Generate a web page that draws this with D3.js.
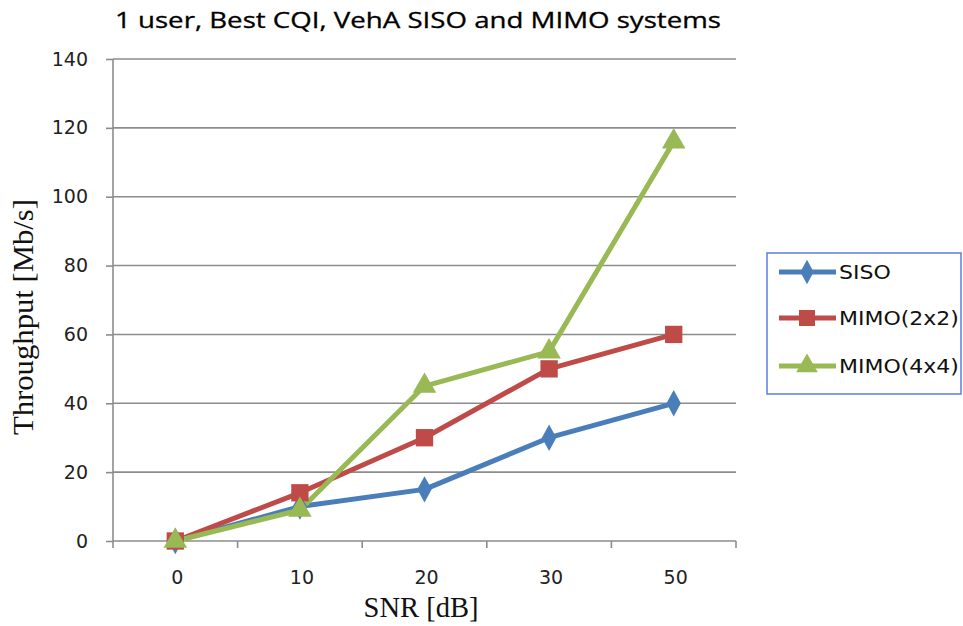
<!DOCTYPE html>
<html><head><meta charset="utf-8">
<script src="https://cdn.jsdelivr.net/npm/d3@7"></script>
<style>body{margin:0;background:#fff}svg{display:block}</style>
</head><body>
<svg id="c" width="963" height="626"></svg>
<script>
const categories = ["0","10","20","30","50"];
const sisoValues = [0, 10, 15, 30, 40];
const mimo2Values = [0, 14, 30, 50, 60];
const mimo4Values = [0, 9, 45, 55, 116];
const yTicks = [0,20,40,60,80,100,120,140];
const seriesNames = ["SISO","MIMO(2x2)","MIMO(4x4)"];

const series = [
  {name: seriesNames[0], values: sisoValues, color: "#4A7EBB", sym: d3.symbolDiamond, size: 200, sx: 0.95},
  {name: seriesNames[1], values: mimo2Values, color: "#BE4B48", sym: d3.symbolSquare, size: 300, sx: 1},
  {name: seriesNames[2], values: mimo4Values, color: "#98B954", sym: d3.symbolTriangle, size: 240, sx: 1}
];

const svg = d3.select("#c");
const L = 113, R = 736, T = 59, B = 541;
const x = d3.scaleBand().domain(categories).range([L, R]);
const y = d3.scaleLinear().domain([0,140]).range([B, T]);
const tickFont = "DejaVu Sans, Verdana, sans-serif";

// gridlines
svg.append("g").selectAll("line").data(yTicks.filter(d=>d>0)).join("line")
  .attr("x1", L).attr("x2", R).attr("y1", d=>y(d)).attr("y2", d=>y(d))
  .attr("stroke", "#8c8c8c").attr("stroke-width", 1.6);

// y axis
const ya = svg.append("g").attr("transform", `translate(${L},0)`)
  .call(d3.axisLeft(y).tickValues(yTicks).tickSize(7).tickPadding(18));
ya.select(".domain").attr("stroke", "#8c8c8c").attr("stroke-width", 1.6).attr("d", `M0,${T}V${B}`);
ya.selectAll(".tick line").attr("stroke", "#8c8c8c").attr("stroke-width", 1.6);
ya.selectAll(".tick text").attr("font-family", tickFont).attr("font-size", 19).attr("fill", "#222");

// x axis
const xa = svg.append("g").attr("transform", `translate(0,${B})`)
  .call(d3.axisBottom(x).tickSize(0).tickPadding(30));
xa.select(".domain").attr("stroke", "#8c8c8c").attr("stroke-width", 1.6).attr("d", `M${L},0H${R}`);
xa.selectAll(".tick text").attr("font-family", tickFont).attr("font-size", 19).attr("fill", "#222").attr("dx", 2);
// category boundary ticks
const bounds = categories.map(c => x(c)).concat([x(categories[categories.length-1]) + x.bandwidth()]);
svg.append("g").selectAll("line").data(bounds).join("line")
  .attr("x1", d=>d).attr("x2", d=>d).attr("y1", B).attr("y2", B+7)
  .attr("stroke", "#8c8c8c").attr("stroke-width", 1.6);

// lines and markers
const cx = (i) => x(categories[i]) + x.bandwidth()/2;
series.forEach(s => {
  const line = d3.line().x((d,i)=>cx(i)).y(d=>y(d));
  svg.append("path").datum(s.values).attr("d", line)
    .attr("fill", "none").attr("stroke", s.color).attr("stroke-width", 5).attr("stroke-linejoin", "round");
});
series.forEach(s => {
  svg.append("g").selectAll("path").data(s.values).join("path")
    .attr("d", d3.symbol().type(s.sym).size(s.size))
    .attr("transform", (d,i)=>`translate(${cx(i)},${y(d)}) scale(${s.sx},1)`)
    .attr("fill", s.color);
});

// title
svg.append("text").attr("x", 418).attr("y", 28).attr("text-anchor", "middle")
  .attr("font-family", "Open Sans, sans-serif").attr("font-size", 21).attr("fill", "#000")
  .attr("stroke", "#000").attr("stroke-width", 0.3)
  .attr("textLength", 606).attr("lengthAdjust", "spacingAndGlyphs")
  .text("1 user, Best CQI, VehA SISO and MIMO systems");

// axis titles
svg.append("text").attr("x", 421).attr("y", 617).attr("text-anchor", "middle")
  .attr("font-family", "Liberation Serif, Times New Roman, serif").attr("font-size", 30).attr("fill", "#111")
  .attr("textLength", 115).attr("lengthAdjust", "spacingAndGlyphs")
  .text("SNR [dB]");
svg.append("text").attr("transform", "translate(33,317) rotate(-90)").attr("text-anchor", "middle")
  .attr("font-family", "Liberation Serif, Times New Roman, serif").attr("font-size", 30).attr("fill", "#111")
  .attr("textLength", 236).attr("lengthAdjust", "spacingAndGlyphs")
  .text("Throughput [Mb/s]");

// legend
const lg = svg.append("g");
lg.append("rect").attr("x", 767).attr("y", 253).attr("width", 194).attr("height", 141)
  .attr("fill", "#fff").attr("stroke", "#5b7fdc").attr("stroke-width", 1.5);
const ly = [272, 318, 366];
series.forEach((s, i) => {
  lg.append("line").attr("x1", 779).attr("x2", 836).attr("y1", ly[i]).attr("y2", ly[i])
    .attr("stroke", s.color).attr("stroke-width", 5);
  lg.append("path").attr("d", d3.symbol().type(s.sym).size(s.size*0.85))
    .attr("transform", `translate(807,${ly[i]}) scale(${s.sx},1)`).attr("fill", s.color);
  lg.append("text").attr("transform", `translate(839,${ly[i]+7}) scale(1.1,1)`)
    .attr("font-family", tickFont).attr("font-size", 20).attr("fill", "#111")
    .text(s.name);
});
</script>
</body></html>
